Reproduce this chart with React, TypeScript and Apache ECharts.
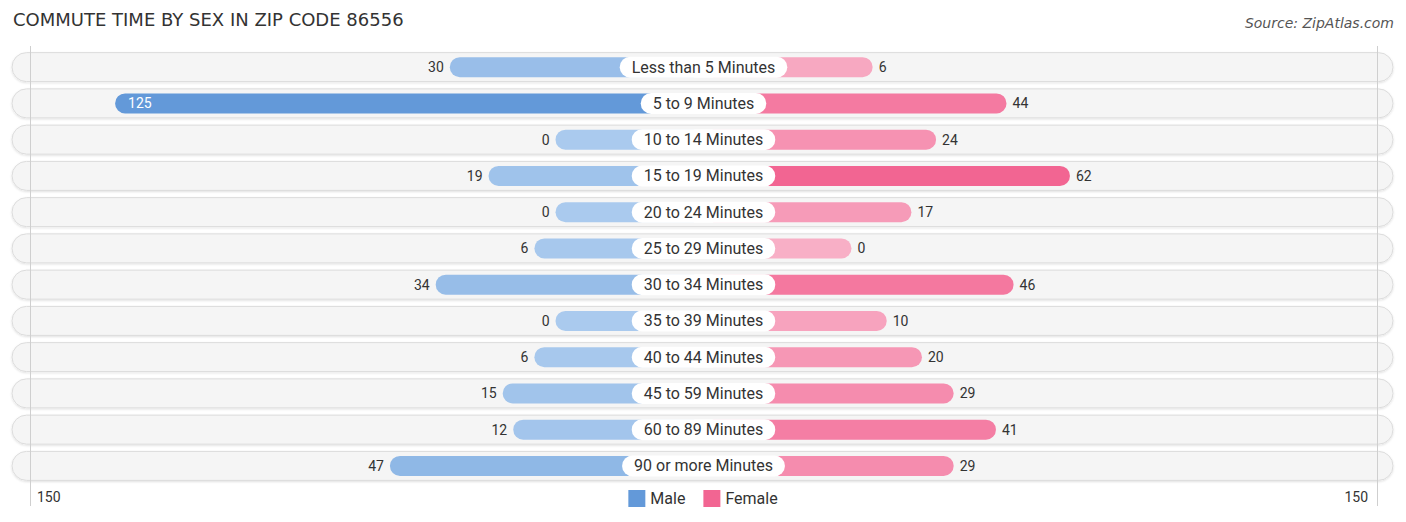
import React, { useEffect, useRef } from 'react';
import * as echarts from 'echarts';

const categories = [
  'Less than 5 Minutes',
  '5 to 9 Minutes',
  '10 to 14 Minutes',
  '15 to 19 Minutes',
  '20 to 24 Minutes',
  '25 to 29 Minutes',
  '30 to 34 Minutes',
  '35 to 39 Minutes',
  '40 to 44 Minutes',
  '45 to 59 Minutes',
  '60 to 89 Minutes',
  '90 or more Minutes',
];
const male = [30, 125, 0, 19, 0, 6, 34, 0, 6, 15, 12, 47];
const female = [6, 44, 24, 62, 17, 0, 46, 10, 20, 29, 41, 29];
const axisLimit = 150;

// bars start under the centre label, so every bar gets this many units extra
const OFFSET = 42;
const AXIS_MAX = axisLimit + OFFSET;

const FONT = 'Roboto, "Noto Sans", sans-serif';
const TITLE_FONT = '"DejaVu Sans", sans-serif';

const lerpColor = (a: string, b: string, t: number) => {
  const pa = [1, 3, 5].map((i) => parseInt(a.slice(i, i + 2), 16));
  const pb = [1, 3, 5].map((i) => parseInt(b.slice(i, i + 2), 16));
  const c = pa.map((v, i) => Math.round(v + (pb[i] - v) * t));
  return '#' + c.map((v) => v.toString(16).padStart(2, '0')).join('');
};

const MALE_LIGHT = '#aacaee';
const MALE_DARK = '#6399d9';
const FEMALE_LIGHT = '#f8afc6';
const FEMALE_DARK = '#f26592';

const App: React.FC = () => {
  const chartRef = useRef<HTMLDivElement>(null);

  useEffect(() => {
    if (!chartRef.current) return;
    document.body.style.margin = '0';
    const chart = echarts.init(chartRef.current, undefined, { renderer: 'svg' });

    const maleMax = Math.max(...male);
    const femaleMax = Math.max(...female);

    const option: echarts.EChartsOption = {
      animation: false,
      textStyle: { fontFamily: FONT },
      title: [
        {
          text: 'COMMUTE TIME BY SEX IN ZIP CODE 86556',
          left: 8,
          top: 5,
          textStyle: {
            fontFamily: TITLE_FONT,
            fontSize: 18,
            fontWeight: 'normal',
            color: '#333',
          },
        },
        {
          text: 'Source: ZipAtlas.com',
          right: 7,
          top: 11,
          textStyle: {
            fontFamily: TITLE_FONT,
            fontSize: 14,
            fontStyle: 'italic',
            fontWeight: 'normal',
            color: '#555',
          },
        },
      ],
      legend: {
        data: ['Male', 'Female'],
        left: 'center',
        top: 485,
        icon: 'rect',
        itemWidth: 17,
        itemHeight: 17,
        itemGap: 18,
        textStyle: { fontSize: 16, color: '#333', fontFamily: FONT },
      },
      grid: { left: 27, right: 26, top: 49, bottom: 38 },
      xAxis: {
        type: 'value',
        min: -AXIS_MAX,
        max: AXIS_MAX,
        interval: AXIS_MAX,
        axisLine: { show: false },
        axisTick: { show: false },
        splitLine: { show: false },
        axisLabel: {
          margin: 6,
          alignMinLabel: 'left',
          alignMaxLabel: 'right',
          formatter: (v: number) =>
            v === 0 ? '' : v < 0 ? `{l|${Math.abs(v) - OFFSET}}` : `{r|${v - OFFSET}}`,
          rich: {
            l: { fontSize: 14, color: '#333', padding: [0, 0, 0, 10], fontFamily: FONT },
            r: { fontSize: 14, color: '#333', padding: [0, 12, 0, 0], fontFamily: FONT },
          },
        },
      },
      yAxis: {
        type: 'category',
        data: categories,
        inverse: true,
        axisLine: { show: false },
        axisTick: { show: false },
        axisLabel: { show: false },
      },
      series: [
        {
          type: 'custom',
          silent: true,
          z: 0,
          data: categories.map((_, i) => i),
          renderItem: (params: any, api: any) => {
            const idx = params.dataIndex;
            const cs = params.coordSys;
            const cy = api.coord([0, idx])[1];
            const h = 29;
            const x0 = cs.x - 15;
            const x1 = cs.x + cs.width + 13;
            const children: any[] = [
              {
                type: 'rect',
                shape: { x: x0, y: cy - h / 2, width: x1 - x0, height: h, r: h / 2 },
                style: {
                  fill: '#f5f5f5',
                  stroke: '#dcdcdc',
                  lineWidth: 1,
                  shadowBlur: 2,
                  shadowOffsetY: 1,
                  shadowColor: 'rgba(0,0,0,0.12)',
                },
              },
            ];
            if (idx === categories.length - 1) {
              [-AXIS_MAX, AXIS_MAX].forEach((v) => {
                const x = Math.round(api.coord([v, 0])[0]) + (v < 0 ? 3.5 : -2.5);
                children.push({
                  type: 'line',
                  shape: { x1: x, y1: cs.y - 3, x2: x, y2: cs.y + cs.height + 22 },
                  style: { stroke: '#cfcfcf', lineWidth: 1 },
                });
              });
            }
            return { type: 'group', children };
          },
        },
        {
          name: 'Male',
          type: 'bar',
          z: 2,
          barWidth: 20,
          barGap: '-100%',
          itemStyle: { color: MALE_DARK },
          data: male.map((v) => {
            const inside = v > 100;
            return {
              value: -(v + OFFSET),
              itemStyle: {
                color: lerpColor(MALE_LIGHT, MALE_DARK, v / maleMax),
                borderRadius: 10,
              },
              label: {
                show: true,
                position: inside ? 'insideLeft' : 'left',
                distance: inside ? 13 : 6,
                formatter: String(v),
                fontSize: 14,
                color: inside ? '#fff' : '#333',
                fontFamily: FONT,
              },
            };
          }),
        },
        {
          name: 'Female',
          type: 'bar',
          z: 2,
          barWidth: 20,
          barGap: '-100%',
          itemStyle: { color: FEMALE_DARK },
          data: female.map((v) => {
            const inside = v > 100;
            return {
              value: v + OFFSET,
              itemStyle: {
                color: lerpColor(FEMALE_LIGHT, FEMALE_DARK, v / femaleMax),
                borderRadius: 10,
              },
              label: {
                show: true,
                position: inside ? 'insideRight' : 'right',
                distance: inside ? 13 : 6,
                formatter: String(v),
                fontSize: 14,
                color: inside ? '#fff' : '#333',
                fontFamily: FONT,
              },
            };
          }),
        },
        {
          type: 'custom',
          z: 5,
          silent: true,
          data: categories.map((_, i) => i),
          renderItem: (params: any, api: any) => {
            const [cx, cy] = api.coord([0, params.dataIndex]);
            return {
              type: 'text',
              x: cx,
              y: cy,
              style: {
                text: categories[params.dataIndex],
                fontSize: 16,
                fontFamily: FONT,
                fill: '#333',
                align: 'center',
                verticalAlign: 'middle',
                backgroundColor: '#ffffff',
                borderRadius: 12,
                padding: [3, 12, 2, 12],
              },
            };
          },
        },
      ],
    };

    chart.setOption(option);
    return () => {
      chart.dispose();
    };
  }, []);

  return <div ref={chartRef} style={{ width: '1406px', height: '522px' }}></div>;
};

export default App;
